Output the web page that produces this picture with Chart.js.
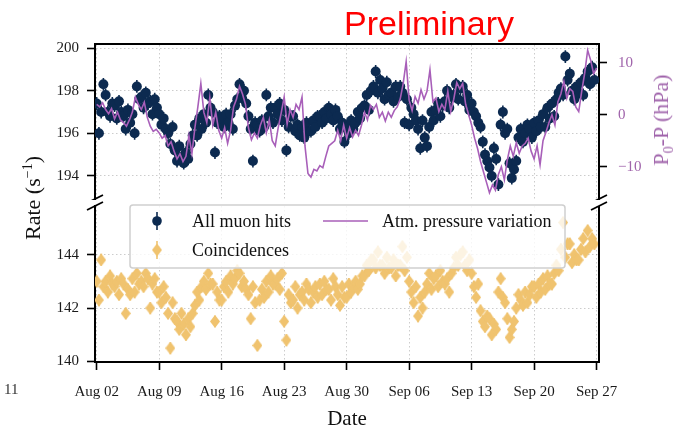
<!DOCTYPE html>
<html><head><meta charset="utf-8">
<script src="https://cdn.jsdelivr.net/npm/chart.js@4.4.1/dist/chart.umd.min.js"></script>
<style>
html,body{margin:0;padding:0;background:#fff;}
#wrap{position:relative;width:674px;height:432px;overflow:hidden;font-family:'Liberation Serif','Times New Roman',serif;}
#cTop{position:absolute;left:0;top:0;}
#cBot{position:absolute;left:0;top:200px;}
.lbl{position:absolute;white-space:nowrap;line-height:1;}
#prelim{left:429px;top:6px;transform:translateX(-50%);font-family:'Liberation Sans',Arial,sans-serif;font-size:34px;color:#ff0000;}
#ylab{left:33px;top:198px;transform:translate(-50%,-50%) rotate(-90deg);font-size:22px;color:#111;}
#plab{left:661px;top:120px;transform:translate(-50%,-50%) rotate(-90deg);font-size:22px;color:#a064ab;}
#pnum{left:4px;top:382px;font-size:15px;color:#333;}
sup,sub{font-size:14px;line-height:0;}
</style></head><body>
<div id="wrap">
<canvas id="cTop" width="674" height="200"></canvas>
<canvas id="cBot" width="674" height="232"></canvas>
<div class="lbl" id="prelim">Preliminary</div>
<div class="lbl" id="ylab">Rate (s<sup>&minus;1</sup>)</div>
<div class="lbl" id="plab">P<sub>0</sub>-P (hPa)</div>
<div class="lbl" id="pnum">11</div>
</div>
<script>
// ---------------- DATA ----------------
const weekTicks = [0, 7, 14, 21, 28, 35, 42, 49, 56];              // days since Aug 02
const weekLabels = ['Aug 02','Aug 09','Aug 16','Aug 23','Aug 30','Sep 06','Sep 13','Sep 20','Sep 27'];
const rateSamplesPerDay = 4;
const pressureSamplesPerDay = 3;
const seriesNames = ['All muon hits', 'Atm. pressure variation', 'Coincidences'];

// All muon hits rate (s^-1), 4 samples per day from Aug 02
const muonRate = [
197.4,196.0,197.0,198.3, 197.8,197.0,196.8,197.4, 197.3,196.7,197.5,197.0, 196.8,196.2,197.1,196.5,
196.9,196.0,198.2,197.6, 197.7,197.2,197.9,197.4, 197.5,196.9,197.6,197.2, 196.9,196.4,196.7,196.2,
196.0,195.5,196.3,195.2, 194.7,195.4,194.9,194.6, 195.1,194.8,195.5,195.9, 196.4,195.9,196.7,196.2,
196.9,196.5,197.8,197.2, 197.0,195.1,196.5,196.8, 196.7,196.3,196.9,196.5, 196.9,196.2,197.3,197.6,
198.3,197.7,198.0,197.4, 196.8,196.2,194.7,196.5, 196.4,196.1,196.6,196.3, 197.8,196.8,197.2,196.5,
197.2,196.9,197.4,196.6, 197.1,195.2,196.3,196.8, 196.8,196.1,196.4,195.9, 196.3,195.8,196.5,196.1,
196.1,196.6,196.3,196.8, 196.8,196.5,197.0,196.7, 197.2,196.9,196.6,197.1, 196.8,196.2,196.5,195.6,
196.3,196.0,196.6,196.2, 196.5,197.0,196.7,197.2, 197.3,197.8,197.1,198.0, 198.2,198.9,197.9,198.5,
198.1,197.6,198.4,197.8, 197.9,197.5,198.2,197.7, 198.2,197.9,196.5,197.6, 196.4,197.2,196.9,196.6,
196.2,195.3,196.6,195.8, 195.4,196.3,197.0,196.6, 197.1,197.4,196.8,197.3, 197.5,198.0,197.2,197.7,
197.8,198.3,197.6,198.1, 198.2,197.5,197.8,197.1, 197.4,197.0,196.8,196.5, 196.3,195.6,195.0,194.7,
194.4,194.0,195.3,194.8, 193.6,196.4,197.0,196.0, 196.2,194.6,193.9,194.3, 194.7,195.8,196.2,195.6,
196.0,196.4,196.2,195.8, 196.5,196.1,196.6,196.3, 196.9,196.3,197.2,196.7, 197.4,196.8,197.6,197.9,
198.1,197.8,199.6,198.5, 198.8,198.0,197.6,198.2, 197.9,198.4,197.8,198.6, 198.9,198.3,199.1,198.5
];

// Atmospheric pressure variation P0-P (hPa), 3 samples per day
const pressureVar = [
2.0,1.5,2.3, 1.0,0.2,1.2, -0.8,0.5,-1.0, -1.5,-2.2,-1.0,
0.5,3.4,2.0, 1.0,2.4,-0.5, -2.2,-3.2,-2.8, -3.5,-4.5,-4.0,
-6.0,-5.2,-7.0, -8.5,-7.5,-9.0, -8.0,-4.0,-7.5, -2.5,1.5,6.0,
0.5,-1.5,3.3, -2.0,0.5,-3.0, -4.5,-2.5,-5.5, -3.0,1.5,3.0,
5.5,4.0,2.0, -2.5,-4.8,-3.5, -4.5,-2.0,-0.5, -3.5,-1.0,-5.0,
-6.0,-2.5,0.3, 3.4,-1.8,1.0, -0.5,2.0,1.0, 3.4,-6.0,-11.3,
-12.0,-10.5,-10.8, -9.8,-10.2,-8.0, -6.0,-5.5,-5.0, -3.0,-5.0,-2.0,
-4.5,-2.5,-4.3, -3.0,-4.0,-2.0, 0.5,-1.0,1.8, 1.0,2.0,-0.5,
0.5,-1.2,0.5, -0.5,0.8,1.5, 3.0,6.0,10.2, 2.8,0.8,3.5,
2.2,4.8,3.0, 4.5,8.6,2.5, 3.2,0.6,2.0, 1.0,4.5,0.6,
3.0,6.2,5.0, 6.0,2.0,0.0, -2.0,-4.5,-6.5, -9.0,-11.0,-13.0,
-15.0,-13.5,-14.5, -11.5,-10.0,-12.5, -8.7,-6.0,-8.0, -5.4,-7.4,-6.0,
-5.5,-4.5,-7.0, -8.5,-6.0,-9.6, -5.0,-3.3,-1.5, 0.0,-2.0,2.5,
4.0,6.4,3.2, 5.0,4.5,1.5, 0.6,4.5,8.0, 12.4,10.5,7.9, 9.0
];

// Coincidences rate (s^-1), 4 samples per day
const coincRate = [
143.0,142.3,143.8,142.8, 143.0,142.6,143.2,142.9, 142.8,143.0,142.5,143.1, 142.9,141.8,142.7,142.5,
143.1,142.6,143.3,142.9, 143.0,142.8,143.3,143.1, 142.0,142.9,143.1,142.6, 142.6,142.2,142.8,142.4,
141.8,140.5,142.2,141.6, 141.5,141.2,141.8,141.4, 141.0,141.6,141.3,141.8, 142.1,142.6,142.3,142.8,
143.0,142.7,143.3,142.9, 142.9,141.5,142.6,142.3, 142.3,142.8,143.0,142.6, 143.2,142.9,143.1,143.4,
143.3,142.8,143.0,142.7, 142.5,141.6,142.8,142.2, 140.6,142.3,142.7,142.4, 143.0,142.6,143.2,142.9,
142.9,143.1,142.7,143.3, 141.5,140.8,142.5,142.2, 142.3,142.8,142.0,142.5, 142.6,142.3,142.9,142.7,
142.2,142.6,142.8,142.4, 142.9,142.5,143.0,142.7, 142.7,142.3,143.1,142.8, 142.5,142.1,142.8,142.4,
142.4,142.9,142.6,142.8, 143.0,142.7,142.9,143.2, 143.2,143.6,143.4,143.8, 143.8,143.5,144.1,143.6,
143.6,143.3,143.9,143.5, 143.5,143.8,143.2,143.6, 143.6,144.3,143.4,143.9, 143.0,142.6,142.2,142.8,
141.7,142.4,142.0,142.6, 142.9,143.3,142.7,143.1, 143.2,142.8,143.4,143.0, 142.9,143.1,142.6,143.3,
143.5,143.9,143.6,144.0, 144.1,143.6,143.4,143.8, 143.3,142.8,142.4,142.9, 141.9,141.5,141.3,141.7,
141.6,141.0,141.4,141.2, 142.6,143.1,142.4,142.2, 141.6,140.9,141.2,141.5, 142.0,142.5,142.3,142.1,
142.6,142.2,142.5,142.8, 142.8,142.4,142.9,142.6, 143.1,142.7,143.2,142.9, 142.9,143.3,143.6,143.4,
144.2,145.2,143.9,144.4, 144.4,143.7,144.0,143.8, 143.8,144.2,144.6,144.1, 144.9,144.3,144.6,144.4
];
const muonErr = 0.3;
const coincErr = 0.22;

const topTicks = [194, 196, 198, 200];
const pressTicks = [-10, 0, 10];
const botTicks = [140, 142, 144];

// ---------------- STYLE ----------------
const NAVY = '#0c2a50';
const GOLD = '#f0c36f';
const PURPLE = '#a85fb9';
const PURPLE_T = '#a064ab';
const SERIF = "'Liberation Serif','Times New Roman',serif";
Chart.defaults.font.family = SERIF;
Chart.defaults.font.size = 15;
Chart.defaults.color = '#1a1a1a';

const toXY = (arr, perDay) => arr.map((v, i) => ({x: i / perDay, y: v}));
const X_MIN = -0.19, X_MAX = 56.27;

function diamondImg(color, w, h) {
  const c = document.createElement('canvas');
  c.width = w; c.height = h;
  const g = c.getContext('2d');
  g.fillStyle = color;
  g.beginPath();
  g.moveTo(w / 2, 0); g.lineTo(w, h / 2); g.lineTo(w / 2, h); g.lineTo(0, h / 2);
  g.closePath(); g.fill();
  return c;
}
const DIAMOND = diamondImg(GOLD, 10, 13);

const gridBase = {color: 'rgba(0,0,0,0.2)', lineWidth: 1, tickColor: '#000', tickWidth: 1.6, tickLength: 8};
const borderBase = {display: true, width: 2, color: '#000', dash: [1.5, 2.5]};
const setTicks = arr => (s => { s.ticks = arr.map(v => ({value: v})); });
const fitW = w => (s => { s.width = w; s.paddingTop = 0; s.paddingBottom = 0; });
const fitH = h => (s => { s.height = h; s.paddingLeft = 0; s.paddingRight = 0; });

const errorBarPlugin = {
  id: 'errbars',
  beforeDatasetDraw(chart, args) {
    const ds = chart.data.datasets[args.index];
    if (!ds.errorBar) return;
    const ctx = chart.ctx, ys = chart.scales[ds.yAxisID], a = chart.chartArea;
    ctx.save();
    ctx.beginPath(); ctx.rect(a.left, a.top, a.right - a.left, a.bottom - a.top); ctx.clip();
    ctx.strokeStyle = ds.errorColor; ctx.lineWidth = 1.6;
    ctx.beginPath();
    args.meta.data.forEach((pt, i) => {
      const v = ds.data[i].y;
      ctx.moveTo(pt.x, ys.getPixelForValue(v - ds.errorBar));
      ctx.lineTo(pt.x, ys.getPixelForValue(v + ds.errorBar));
    });
    ctx.stroke();
    ctx.restore();
  }
};

function slash(ctx, x, y) {
  ctx.moveTo(x - 8, y + 4); ctx.lineTo(x + 8, y - 4);
}
const spinePlugin = {
  id: 'spines',
  afterDraw(chart, args, opts) {
    const ctx = chart.ctx, a = chart.chartArea;
    ctx.save();
    ctx.strokeStyle = '#000'; ctx.lineWidth = 1.8;
    ctx.beginPath();
    const y = opts.edge === 'bottom' ? a.bottom : a.top;
    slash(ctx, a.left, y); slash(ctx, a.right, y);
    ctx.stroke();
    if (opts.rightSpine) {
      ctx.lineWidth = 2;
      ctx.beginPath(); ctx.moveTo(a.right, a.top); ctx.lineTo(a.right, a.bottom + 1); ctx.stroke();
    }
    ctx.restore();
  }
};

const legendPlugin = {
  id: 'boxLegend',
  afterDatasetsDraw(chart) {
    const ctx = chart.ctx, a = chart.chartArea;
    const L = a.left + 35, T = a.top - 1, W = 435, H = 63;
    ctx.save();
    ctx.beginPath();
    if (ctx.roundRect) ctx.roundRect(L, T, W, H, 3); else ctx.rect(L, T, W, H);
    ctx.fillStyle = 'rgba(255,255,255,0.8)'; ctx.fill();
    ctx.strokeStyle = '#cfcfcf'; ctx.lineWidth = 1.5; ctx.stroke();
    ctx.font = '18px ' + SERIF; ctx.fillStyle = '#111'; ctx.textBaseline = 'middle';
    const r1 = T + 16, r2 = T + 45, mx = L + 27, tx = L + 62;
    ctx.strokeStyle = NAVY; ctx.lineWidth = 1.6;
    ctx.beginPath(); ctx.moveTo(mx, r1 - 9); ctx.lineTo(mx, r1 + 9); ctx.stroke();
    ctx.fillStyle = NAVY; ctx.beginPath(); ctx.arc(mx, r1, 4.8, 0, Math.PI * 2); ctx.fill();
    ctx.strokeStyle = GOLD;
    ctx.beginPath(); ctx.moveTo(mx, r2 - 9); ctx.lineTo(mx, r2 + 9); ctx.stroke();
    ctx.drawImage(DIAMOND, mx - 5, r2 - 6.5);
    ctx.strokeStyle = PURPLE; ctx.lineWidth = 1.6;
    ctx.beginPath(); ctx.moveTo(L + 193, r1); ctx.lineTo(L + 238, r1); ctx.stroke();
    ctx.fillStyle = '#111';
    ctx.fillText(seriesNames[0], tx, r1 + 1);
    ctx.fillText(seriesNames[2], tx, r2 + 1);
    ctx.fillText(seriesNames[1], L + 252, r1 + 1);
    ctx.restore();
  }
};

// ---------------- TOP PANEL ----------------
new Chart(document.getElementById('cTop'), {
  type: 'scatter',
  data: {datasets: [
    {label: seriesNames[1], data: toXY(pressureVar, pressureSamplesPerDay), yAxisID: 'yP', showLine: true,
     borderColor: PURPLE, borderWidth: 1.6, pointRadius: 0, fill: false, tension: 0, clip: 0},
    {label: seriesNames[0], data: toXY(muonRate, rateSamplesPerDay), yAxisID: 'yT', backgroundColor: NAVY,
     borderWidth: 0, pointRadius: 5, pointStyle: 'circle', clip: 0,
     errorBar: muonErr, errorColor: NAVY}
  ]},
  options: {
    responsive: false, animation: false, devicePixelRatio: 1,
    layout: {autoPadding: false, padding: {left: 0, right: 0, top: 44, bottom: 1}},
    events: [],
    plugins: {legend: {display: false}, tooltip: {enabled: false}, spines: {edge: 'bottom', rightSpine: false}},
    scales: {
      x: {type: 'linear', position: 'top', min: X_MIN, max: X_MAX,
          afterBuildTicks: setTicks(weekTicks), afterFit: fitH(0),
          ticks: {display: false}, grid: Object.assign({}, gridBase, {drawTicks: false}), border: borderBase},
      yT: {type: 'linear', position: 'left', min: 192.92, max: 200.19,
           afterBuildTicks: setTicks(topTicks), afterFit: fitW(95),
           ticks: {padding: 8}, grid: gridBase, border: borderBase},
      yP: {type: 'linear', position: 'right', min: -16.2, max: 13.6,
           afterBuildTicks: setTicks(pressTicks), afterFit: fitW(75),
           ticks: {padding: 11, color: PURPLE_T, callback: v => (v < 0 ? '\u2212' + (-v) : String(v))},
           grid: Object.assign({}, gridBase, {drawOnChartArea: false}), border: borderBase}
    }
  },
  plugins: [errorBarPlugin, spinePlugin]
});

// ---------------- BOTTOM PANEL ----------------
new Chart(document.getElementById('cBot'), {
  type: 'scatter',
  data: {datasets: [
    {label: seriesNames[2], data: toXY(coincRate, rateSamplesPerDay), yAxisID: 'yB', pointStyle: DIAMOND,
     pointRadius: 6.5, backgroundColor: GOLD, borderWidth: 0, clip: 0,
     errorBar: coincErr, errorColor: GOLD}
  ]},
  options: {
    responsive: false, animation: false, devicePixelRatio: 1,
    layout: {autoPadding: false, padding: {left: 0, right: 75, top: 6, bottom: 0}},
    events: [],
    plugins: {legend: {display: false}, tooltip: {enabled: false}, spines: {edge: 'top', rightSpine: true}},
    scales: {
      x: {type: 'linear', position: 'bottom', min: X_MIN, max: X_MAX,
          afterBuildTicks: setTicks(weekTicks), afterFit: fitH(70),
          ticks: {padding: 13, maxRotation: 0, autoSkip: false, callback: (v, i) => weekLabels[i]},
          grid: gridBase, border: borderBase,
          title: {display: true, text: 'Date', font: {size: 21}, color: '#111', padding: {top: 0, bottom: 0}}},
      yB: {type: 'linear', position: 'left', min: 139.98, max: 145.82,
           afterBuildTicks: setTicks(botTicks), afterFit: fitW(95),
           ticks: {padding: 8}, grid: gridBase, border: borderBase}
    }
  },
  plugins: [errorBarPlugin, spinePlugin, legendPlugin]
});
</script>
</body></html>
